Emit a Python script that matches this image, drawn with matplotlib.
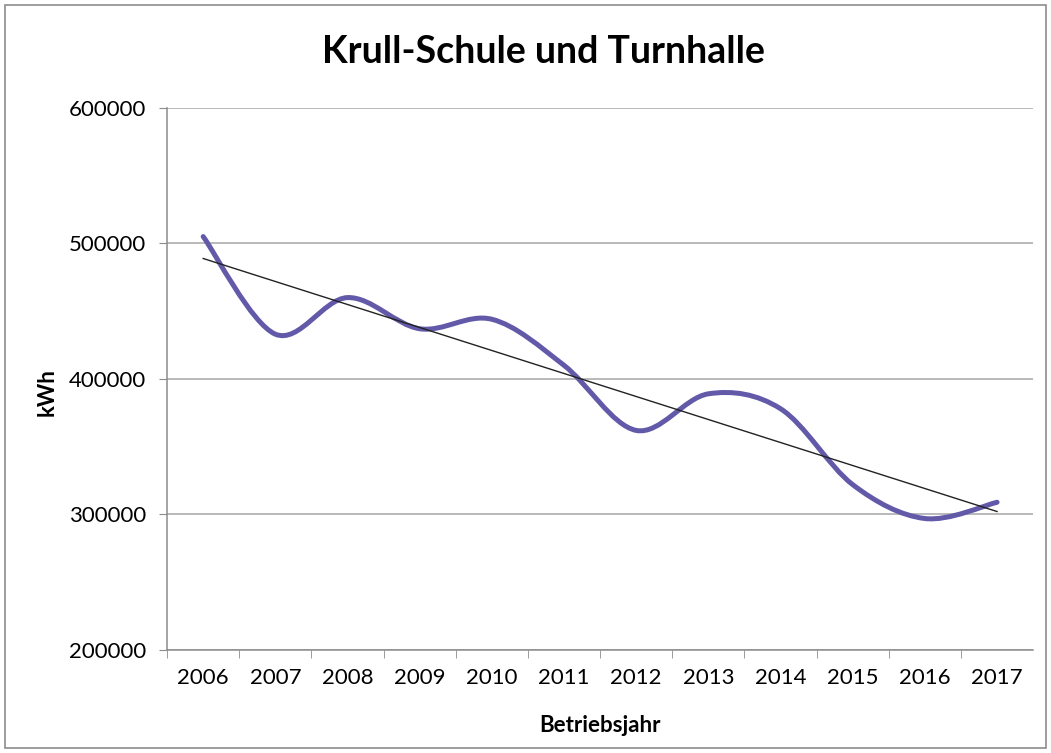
import matplotlib
matplotlib.use("Agg")
import matplotlib.pyplot as plt
import numpy as np
from matplotlib.path import Path
from matplotlib.patches import PathPatch, Rectangle

years = ["2006", "2007", "2008", "2009", "2010", "2011",
         "2012", "2013", "2014", "2015", "2016", "2017"]
kwh = [505000, 433000, 460000, 437000, 444000, 410000,
       362000, 389000, 378000, 322000, 297000, 309000]
y_ticks = [200000, 300000, 400000, 500000, 600000]

plt.rcParams["font.family"] = ["Lato", "DejaVu Sans"]

fig = plt.figure(figsize=(10.51, 7.53), dpi=100)
ax = fig.add_axes([0.159, 0.1368, 0.824, 0.72])

x = np.arange(len(kwh))
y = np.array(kwh, dtype=float)

# Excel-style smoothed line: cubic Bezier segments through the points
verts = [(x[0], y[0])]
codes = [Path.MOVETO]
n = len(x)
for i in range(n - 1):
    p0 = (x[max(i - 1, 0)], y[max(i - 1, 0)])
    p1 = (x[i], y[i])
    p2 = (x[i + 1], y[i + 1])
    p3 = (x[min(i + 2, n - 1)], y[min(i + 2, n - 1)])
    c1 = (p1[0] + (p2[0] - p0[0]) / 6, p1[1] + (p2[1] - p0[1]) / 6)
    c2 = (p2[0] - (p3[0] - p1[0]) / 6, p2[1] - (p3[1] - p1[1]) / 6)
    verts += [c1, c2, p2]
    codes += [Path.CURVE4] * 3
ax.add_patch(PathPatch(Path(verts, codes), facecolor="none",
                       edgecolor="#625aa8", lw=3.6, capstyle="round", zorder=3))

# linear trendline
k, b = np.polyfit(x, y, 1)
ax.plot(x, k * x + b, color="#222222", lw=1.0, zorder=4)

ax.set_xlim(-0.5, len(x) - 0.5)
ax.set_ylim(200000, 600000)
ax.set_yticks(y_ticks)
ax.set_yticklabels([str(v) for v in y_ticks], fontsize=16)
ax.set_xticks(x)
ax.set_xticklabels(years, fontsize=16)
ax.set_xticks(np.arange(-0.5, len(x) - 0.5, 1), minor=True)
ax.tick_params(axis="x", which="major", length=0, pad=13)
ax.tick_params(axis="x", which="minor", length=6, color="#8c8c8c", direction="out")
ax.tick_params(axis="y", length=6, color="#8c8c8c", direction="out", pad=9)

ax.grid(True, axis="y", color="#a6a6a6", lw=1.1)
ax.set_axisbelow(True)
for s in ("top", "right"):
    ax.spines[s].set_visible(False)
for s in ("left", "bottom"):
    ax.spines[s].set_color("#8c8c8c")
    ax.spines[s].set_linewidth(1.1)

fig.text(0.5 * (167 + 1033) / 1051, 1 - 725 / 753, "Betriebsjahr", ha="center",
         va="center", fontsize=16, fontweight="bold")
fig.text(47 / 1051, 1 - 392 / 753, "kWh", ha="center", va="center", rotation=90,
         fontsize=16, fontweight="bold")
fig.text(543 / 1051, 1 - 52 / 753, "Krull-Schule und Turnhalle", ha="center",
         va="center", fontsize=27, fontweight="bold")

# chart area border
fig.patches.append(Rectangle((0.005, 0.006), 0.99, 0.988, transform=fig.transFigure,
                             fill=False, edgecolor="#8c8c8c", lw=1.2))

fig.savefig("out.png", dpi=100)
